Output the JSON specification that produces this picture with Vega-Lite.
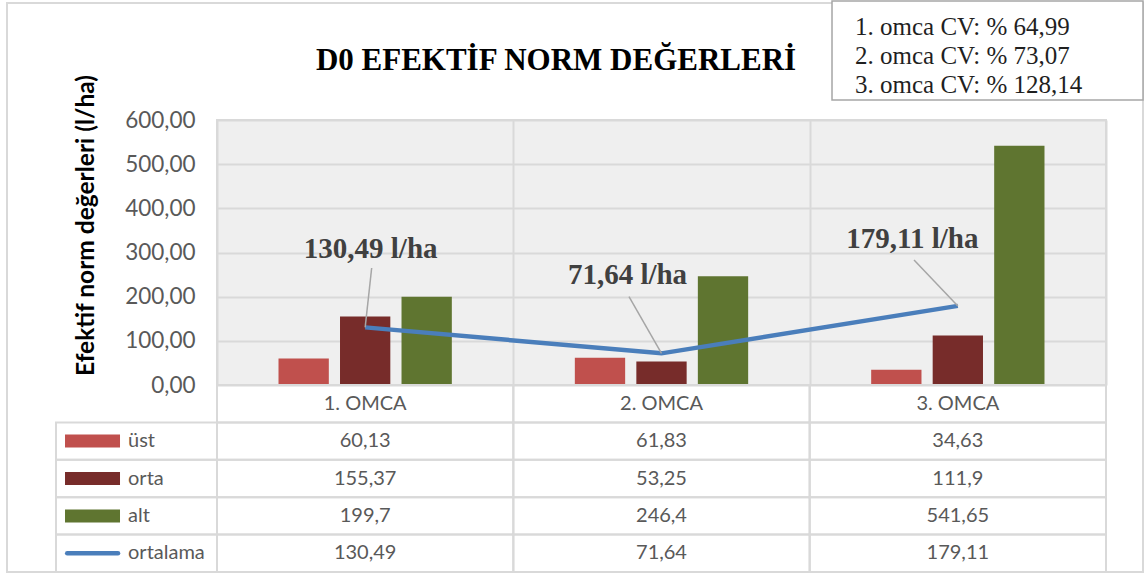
{
  "$schema": "https://vega.github.io/schema/vega-lite/v6.json",
  "width": 889,
  "height": 265,
  "autosize": {"type": "none"},
  "padding": {"left": 217, "top": 120, "right": 39, "bottom": 189},
  "background": "#ffffff",
  "config": {
    "locale": {"number": {"decimal": ",", "thousands": ".", "grouping": [3], "currency": ["", " l/ha"]}},
    "view": {"fill": "#efefef", "stroke": "#d9d9d9", "strokeWidth": 2},
    "text": {"font": "Lato"}
  },
  "datasets": {
    "norm": [
      {"omca": "1. OMCA", "series": "üst", "value": 60.13},
      {"omca": "1. OMCA", "series": "orta", "value": 155.37},
      {"omca": "1. OMCA", "series": "alt", "value": 199.7},
      {"omca": "1. OMCA", "series": "ortalama", "value": 130.49},
      {"omca": "2. OMCA", "series": "üst", "value": 61.83},
      {"omca": "2. OMCA", "series": "orta", "value": 53.25},
      {"omca": "2. OMCA", "series": "alt", "value": 246.4},
      {"omca": "2. OMCA", "series": "ortalama", "value": 71.64},
      {"omca": "3. OMCA", "series": "üst", "value": 34.63},
      {"omca": "3. OMCA", "series": "orta", "value": 111.9},
      {"omca": "3. OMCA", "series": "alt", "value": 541.65},
      {"omca": "3. OMCA", "series": "ortalama", "value": 179.11}
    ],
    "cv": [
      {"omca": "1. omca", "cv": 64.99, "label": "1. omca CV: % 64,99"},
      {"omca": "2. omca", "cv": 73.07, "label": "2. omca CV: % 73,07"},
      {"omca": "3. omca", "cv": 128.14, "label": "3. omca CV: % 128,14"}
    ]
  },
  "data": {"name": "norm"},
  "resolve": {"scale": {"x": "independent", "y": "independent"}},
  "layer": [
    {
      "transform": [{"filter": "datum.omca === '1. OMCA' && datum.series === 'alt'"}],
      "mark": {"type": "rect", "fillOpacity": 0, "stroke": "#d9d9d9", "strokeWidth": 2},
      "encoding": {
        "x": {"datum": -0.7087, "type": "quantitative", "scale": {"domain": [0, 3], "nice": false, "zero": false}, "axis": null},
        "x2": {"datum": 3.1249},
        "y": {"datum": 864.9, "type": "quantitative", "scale": {"domain": [0, 600], "nice": false, "zero": false}, "axis": null},
        "y2": {"datum": -423.4}
      }
    },
    {
      "transform": [{"filter": "datum.omca === '1. OMCA' && datum.series === 'alt'"}],
      "mark": {"type": "rect", "fill": "#ffffff", "stroke": "#a6a6a6", "strokeWidth": 1.5},
      "encoding": {
        "x": {"datum": 2.0754, "type": "quantitative", "scale": {"domain": [0, 3], "nice": false, "zero": false}, "axis": null},
        "x2": {"datum": 3.1249},
        "y": {"datum": 869.4, "type": "quantitative", "scale": {"domain": [0, 600], "nice": false, "zero": false}, "axis": null},
        "y2": {"datum": 645.3}
      }
    },
    {
      "transform": [{"filter": "datum.series !== 'ortalama'"}],
      "mark": {"type": "bar"},
      "encoding": {
        "x": {
          "field": "omca", "type": "nominal",
          "scale": {"domain": ["1. OMCA", "2. OMCA", "3. OMCA"], "paddingInner": 0, "paddingOuter": 0},
          "axis": {"grid": true, "tickBand": "extent", "labels": false, "ticks": false, "domain": false, "title": null, "gridColor": "#d9d9d9", "gridWidth": 2}
        },
        "xOffset": {"field": "series", "type": "nominal", "scale": {"domain": ["üst", "orta", "alt"], "paddingInner": 0.182, "paddingOuter": 1.0}},
        "y": {
          "field": "value", "type": "quantitative",
          "scale": {"domain": [0, 600], "nice": false, "zero": false},
          "axis": {
            "values": [0, 100, 200, 300, 400, 500, 600], "format": ".2f",
            "labelFont": "Lato", "labelFontSize": 22.5, "labelColor": "#595959", "labelPadding": 22,
            "ticks": false, "domain": false, "grid": true, "gridColor": "#d9d9d9", "gridWidth": 2,
            "title": "Efektif norm değerleri (l/ha)", "titleFont": "Lato", "titleFontWeight": "bold",
            "titleFontSize": 24.5, "titleColor": "#000000", "titlePadding": 26, "titleY": 105
          }
        },
        "color": {
          "field": "series", "type": "nominal",
          "scale": {"domain": ["üst", "orta", "alt", "ortalama"], "range": ["#c0504d", "#772c2a", "#5f7530", "#4a7ebb"]},
          "legend": null
        }
      }
    },
    {
      "transform": [{"filter": "datum.series === 'ortalama'"}],
      "mark": {"type": "line", "color": "#4a7ebb", "strokeWidth": 4.5},
      "encoding": {
        "x": {"field": "omca", "type": "nominal", "scale": {"domain": ["1. OMCA", "2. OMCA", "3. OMCA"], "paddingInner": 0, "paddingOuter": 0}, "axis": null},
        "y": {"field": "value", "type": "quantitative", "scale": {"domain": [0, 600], "nice": false, "zero": false}, "axis": null}
      }
    },
    {
      "transform": [{"filter": "datum.series === 'ortalama' && datum.omca === '1. OMCA'"}],
      "encoding": {
        "x": {"field": "omca", "type": "nominal", "scale": {"domain": ["1. OMCA", "2. OMCA", "3. OMCA"], "paddingInner": 0, "paddingOuter": 0}, "axis": null},
        "y": {"field": "value", "type": "quantitative", "scale": {"domain": [0, 600], "nice": false, "zero": false}, "axis": null}
      },
      "layer": [
        {"mark": {"type": "rule", "color": "#a6a6a6", "strokeWidth": 1.5, "x2Offset": 6.5, "y2Offset": -59.4}, "encoding": {"x2": {"field": "omca"}, "y2": {"field": "value"}}},
        {"mark": {"type": "text", "font": "Liberation Serif", "fontWeight": "bold", "fontSize": 29, "color": "#404040", "align": "center", "baseline": "alphabetic", "dx": 5.5, "dy": -69.1}, "encoding": {"text": {"field": "value", "type": "quantitative", "format": "$.2f"}}}
      ]
    },
    {
      "transform": [{"filter": "datum.series === 'ortalama' && datum.omca === '2. OMCA'"}],
      "encoding": {
        "x": {"field": "omca", "type": "nominal", "scale": {"domain": ["1. OMCA", "2. OMCA", "3. OMCA"], "paddingInner": 0, "paddingOuter": 0}, "axis": null},
        "y": {"field": "value", "type": "quantitative", "scale": {"domain": [0, 600], "nice": false, "zero": false}, "axis": null}
      },
      "layer": [
        {"mark": {"type": "rule", "color": "#a6a6a6", "strokeWidth": 1.5, "x2Offset": -32.5, "y2Offset": -56.7}, "encoding": {"x2": {"field": "omca"}, "y2": {"field": "value"}}},
        {"mark": {"type": "text", "font": "Liberation Serif", "fontWeight": "bold", "fontSize": 29, "color": "#404040", "align": "center", "baseline": "alphabetic", "dx": -34, "dy": -69.4}, "encoding": {"text": {"field": "value", "type": "quantitative", "format": "$.2f"}}}
      ]
    },
    {
      "transform": [{"filter": "datum.series === 'ortalama' && datum.omca === '3. OMCA'"}],
      "encoding": {
        "x": {"field": "omca", "type": "nominal", "scale": {"domain": ["1. OMCA", "2. OMCA", "3. OMCA"], "paddingInner": 0, "paddingOuter": 0}, "axis": null},
        "y": {"field": "value", "type": "quantitative", "scale": {"domain": [0, 600], "nice": false, "zero": false}, "axis": null}
      },
      "layer": [
        {"mark": {"type": "rule", "color": "#a6a6a6", "strokeWidth": 1.5, "x2Offset": -43.8, "y2Offset": -45.9}, "encoding": {"x2": {"field": "omca"}, "y2": {"field": "value"}}},
        {"mark": {"type": "text", "font": "Liberation Serif", "fontWeight": "bold", "fontSize": 29, "color": "#404040", "align": "center", "baseline": "alphabetic", "dx": -45.4, "dy": -58.2}, "encoding": {"text": {"field": "value", "type": "quantitative", "format": "$.2f"}}}
      ]
    },
    {
      "mark": {"type": "rect", "fillOpacity": 0, "stroke": "#d9d9d9", "strokeWidth": 2},
      "encoding": {
        "x": {"field": "omca", "type": "nominal", "scale": {"domain": ["1. OMCA", "2. OMCA", "3. OMCA"], "paddingInner": 0, "paddingOuter": 0}, "axis": null},
        "y": {"field": "series", "type": "nominal", "scale": {"domain": ["header", "üst", "orta", "alt", "ortalama"], "range": [265, 452], "paddingInner": 0, "paddingOuter": 0}, "axis": null}
      }
    },
    {
      "transform": [{"filter": "datum.series === 'üst'"}],
      "mark": {"type": "rect", "fillOpacity": 0, "stroke": "#d9d9d9", "strokeWidth": 2},
      "encoding": {
        "x": {"field": "omca", "type": "nominal", "scale": {"domain": ["1. OMCA", "2. OMCA", "3. OMCA"], "paddingInner": 0, "paddingOuter": 0}, "axis": null},
        "y": {"datum": "header", "type": "nominal", "scale": {"domain": ["header", "üst", "orta", "alt", "ortalama"], "range": [265, 452], "paddingInner": 0, "paddingOuter": 0}, "axis": null}
      }
    },
    {
      "transform": [{"filter": "datum.series === 'üst'"}],
      "mark": {"type": "text", "font": "Lato", "fontSize": 20, "color": "#595959", "align": "center", "baseline": "middle"},
      "encoding": {
        "x": {"field": "omca", "type": "nominal", "scale": {"domain": ["1. OMCA", "2. OMCA", "3. OMCA"], "paddingInner": 0, "paddingOuter": 0}, "axis": null},
        "y": {"datum": "header", "type": "nominal", "scale": {"domain": ["header", "üst", "orta", "alt", "ortalama"], "range": [265, 452], "paddingInner": 0, "paddingOuter": 0}, "axis": null},
        "text": {"field": "omca"}
      }
    },
    {
      "mark": {"type": "text", "font": "Lato", "fontSize": 20, "color": "#595959", "align": "center", "baseline": "middle"},
      "encoding": {
        "x": {"field": "omca", "type": "nominal", "scale": {"domain": ["1. OMCA", "2. OMCA", "3. OMCA"], "paddingInner": 0, "paddingOuter": 0}, "axis": null},
        "y": {"field": "series", "type": "nominal", "scale": {"domain": ["header", "üst", "orta", "alt", "ortalama"], "range": [265, 452], "paddingInner": 0, "paddingOuter": 0}, "axis": null},
        "text": {"field": "value", "type": "quantitative", "format": ".2~f"}
      }
    },
    {
      "transform": [{"filter": "datum.omca === '1. OMCA'"}],
      "mark": {"type": "rect", "fillOpacity": 0, "stroke": "#d9d9d9", "strokeWidth": 2},
      "encoding": {
        "x": {"datum": -0.5433, "type": "quantitative", "scale": {"domain": [0, 3], "nice": false, "zero": false}, "axis": null},
        "x2": {"datum": 0},
        "y": {"field": "series", "type": "nominal", "scale": {"domain": ["header", "üst", "orta", "alt", "ortalama"], "range": [265, 452], "paddingInner": 0, "paddingOuter": 0}, "axis": null}
      }
    },
    {
      "transform": [{"filter": "datum.omca === '1. OMCA' && datum.series !== 'ortalama'"}],
      "mark": {"type": "rule", "strokeWidth": 13, "strokeCap": "butt"},
      "encoding": {
        "x": {"datum": -0.5129, "type": "quantitative", "scale": {"domain": [0, 3], "nice": false, "zero": false}, "axis": null},
        "x2": {"datum": -0.3273},
        "y": {"field": "series", "type": "nominal", "scale": {"domain": ["header", "üst", "orta", "alt", "ortalama"], "range": [265, 452], "paddingInner": 0, "paddingOuter": 0}, "axis": null},
        "color": {"field": "series", "type": "nominal", "scale": {"domain": ["üst", "orta", "alt", "ortalama"], "range": ["#c0504d", "#772c2a", "#5f7530", "#4a7ebb"]}, "legend": null}
      }
    },
    {
      "transform": [{"filter": "datum.omca === '1. OMCA' && datum.series === 'ortalama'"}],
      "mark": {"type": "rule", "strokeWidth": 4.5, "strokeCap": "round", "color": "#4a7ebb"},
      "encoding": {
        "x": {"datum": -0.5055, "type": "quantitative", "scale": {"domain": [0, 3], "nice": false, "zero": false}, "axis": null},
        "x2": {"datum": -0.3340},
        "y": {"field": "series", "type": "nominal", "scale": {"domain": ["header", "üst", "orta", "alt", "ortalama"], "range": [265, 452], "paddingInner": 0, "paddingOuter": 0}, "axis": null}
      }
    },
    {
      "transform": [{"filter": "datum.omca === '1. OMCA'"}],
      "mark": {"type": "text", "font": "Lato", "fontSize": 20, "color": "#595959", "align": "left", "baseline": "middle"},
      "encoding": {
        "x": {"datum": -0.3003, "type": "quantitative", "scale": {"domain": [0, 3], "nice": false, "zero": false}, "axis": null},
        "y": {"field": "series", "type": "nominal", "scale": {"domain": ["header", "üst", "orta", "alt", "ortalama"], "range": [265, 452], "paddingInner": 0, "paddingOuter": 0}, "axis": null},
        "text": {"field": "series"}
      }
    },
    {
      "transform": [{"filter": "datum.omca === '1. OMCA' && datum.series === 'alt'"}],
      "mark": {"type": "text", "font": "Liberation Serif", "fontWeight": "bold", "fontSize": 31, "color": "#000000", "align": "center", "baseline": "alphabetic", "text": "D0 EFEKTİF NORM DEĞERLERİ"},
      "encoding": {
        "x": {"datum": 1.144, "type": "quantitative", "scale": {"domain": [0, 3], "nice": false, "zero": false}, "axis": null},
        "y": {"datum": 713.2, "type": "quantitative", "scale": {"domain": [0, 600], "nice": false, "zero": false}, "axis": null}
      }
    },
    {
      "data": {"name": "cv"},
      "mark": {"type": "text", "font": "Liberation Serif", "fontSize": 25, "color": "#1f1f1f", "align": "left", "baseline": "middle"},
      "encoding": {
        "x": {"datum": 2.153, "type": "quantitative", "scale": {"domain": [0, 3], "nice": false, "zero": false}, "axis": null},
        "y": {"field": "label", "type": "nominal", "scale": {"type": "point", "domain": ["1. omca CV: % 64,99", "2. omca CV: % 73,07", "3. omca CV: % 128,14"], "range": [-93, -35], "padding": 0}, "axis": null},
        "text": {"field": "label"}
      }
    }
  ]
}
